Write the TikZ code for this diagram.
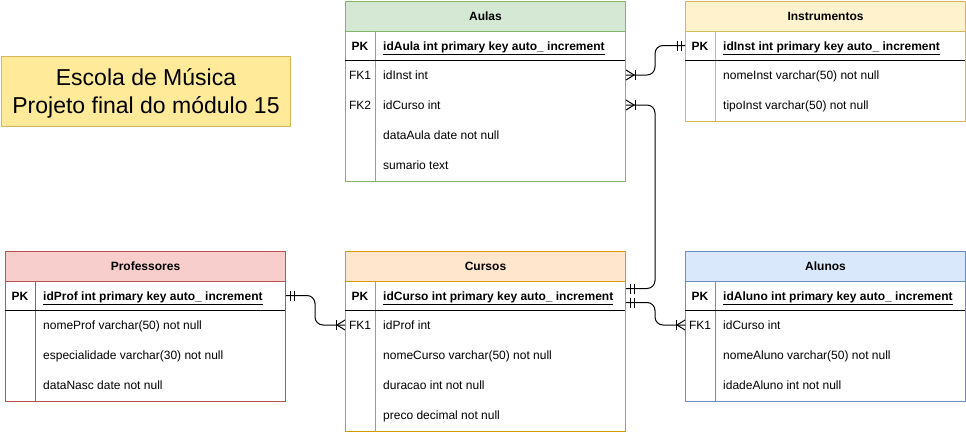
\documentclass[tikz,border=0pt]{standalone}
\usepackage{fontspec}
\setmainfont{Liberation Sans}
\definecolor{aulasF}{HTML}{D5E8D4}\definecolor{aulasB}{HTML}{82B366}
\definecolor{instF}{HTML}{FFF2CC}\definecolor{instB}{HTML}{D6B656}
\definecolor{profF}{HTML}{F8CECC}\definecolor{profB}{HTML}{B85450}
\definecolor{cursF}{HTML}{FFE6CC}\definecolor{cursB}{HTML}{D79B00}
\definecolor{alunF}{HTML}{DAE8FC}\definecolor{alunB}{HTML}{6C8EBF}
\definecolor{titleF}{HTML}{FFEA99}
\newcommand\erFrame[7]{%
  \node[tbox, draw=#6, minimum height=#4pt] (#1) at (#2,#3) {};
  \node[thead, fill=#5, draw=#6] (#1H) at (#2,#3) {#7};
  \draw[#6] (#2+30,#3+30) -- (#2+30,#3+#4);
  \draw (#2,#3+60) -- (#2+280,#3+60);
}
\tikzset{
  tbox/.style={rectangle, anchor=north west, minimum width=280pt, inner sep=0pt, fill=white, line width=1pt},
  thead/.style={rectangle, anchor=north west, minimum width=280pt, minimum height=30pt, inner sep=0pt, line width=1pt, font=\fontsize{12}{14}\selectfont\bfseries},
  fld/.style={anchor=west, inner sep=0pt, text height=11pt, text depth=2pt, font=\fontsize{12}{14}\selectfont},
  pkfld/.style={fld, font=\fontsize{12}{14}\selectfont\bfseries},
  keyl/.style={inner sep=0pt, text height=11pt, text depth=2pt, font=\fontsize{12}{14}\selectfont},
  pkl/.style={keyl, font=\fontsize{12}{14}\selectfont\bfseries},
  conn/.style={line width=1pt, rounded corners=8pt},
  crowE/.pic={\draw[line width=1pt] (0,-5) -- (8,0) -- (0,5); \draw[line width=1pt] (9,-5) -- (9,5);},
  crowW/.pic={\draw[line width=1pt] (0,-5) -- (-8,0) -- (0,5); \draw[line width=1pt] (-9,-5) -- (-9,5);},
  oneE/.pic={\draw[line width=1pt] (4,-5) -- (4,5) (8,-5) -- (8,5);},
  oneW/.pic={\draw[line width=1pt] (-4,-5) -- (-4,5) (-8,-5) -- (-8,5);},
}
\begin{document}
\begin{tikzpicture}[x=1pt,y=-1pt]
\useasboundingbox (0,0) rectangle (966,431);
% title
\node[draw=instB, fill=titleF, line width=1pt, anchor=north west, minimum width=289pt, minimum height=70pt, inner sep=0pt] (title) at (1,55.5) {};
\node[inner sep=0pt, align=center, font=\fontsize{23}{28.5}\selectfont] (titleTxt) at ([yshift=-2.5pt]title.center) {Escola de Música\\Projeto final do módulo 15};
% Aulas
\erFrame{aulas}{345}{0.5}{180}{aulasF}{aulasB}{Aulas}
\node[pkl] (aulasPKl) at (360,45.5) {PK};
\node[pkfld] (aulasPK) at (383,45.5) {\underline{idAula int primary key auto\_ increment}};
\node[keyl] (aulasFK1l) at (360,75) {FK1};
\node[fld] (aulasFK1) at (383,75) {idInst int};
\node[keyl] (aulasFK2l) at (360,105) {FK2};
\node[fld] (aulasFK2) at (383,105) {idCurso int};
\node[fld] (aulasR3) at (383,135) {dataAula date not null};
\node[fld] (aulasR4) at (383,165) {sumario text};
% Instrumentos
\erFrame{inst}{685}{0.5}{120}{instF}{instB}{Instrumentos}
\node[pkl] (instPKl) at (700,45.5) {PK};
\node[pkfld] (instPK) at (723,45.5) {\underline{idInst int primary key auto\_ increment}};
\node[fld] (instR1) at (723,75) {nomeInst varchar(50) not null};
\node[fld] (instR2) at (723,105) {tipoInst varchar(50) not null};
% Professores
\erFrame{prof}{5}{250.5}{150}{profF}{profB}{Professores}
\node[pkl] (profPKl) at (20,295.5) {PK};
\node[pkfld] (profPK) at (43,295.5) {\underline{idProf int primary key auto\_ increment}};
\node[fld] (profR1) at (43,325) {nomeProf varchar(50) not null};
\node[fld] (profR2) at (43,355) {especialidade varchar(30) not null};
\node[fld] (profR3) at (43,385) {dataNasc date not null};
% Cursos
\erFrame{curs}{345}{250.5}{180}{cursF}{cursB}{Cursos}
\node[pkl] (cursPKl) at (360,295.5) {PK};
\node[pkfld] (cursPK) at (383,295.5) {\underline{idCurso int primary key auto\_ increment}};
\node[keyl] (cursFK1l) at (360,325) {FK1};
\node[fld] (cursFK1) at (383,325) {idProf int};
\node[fld] (cursR2) at (383,355) {nomeCurso varchar(50) not null};
\node[fld] (cursR3) at (383,385) {duracao int not null};
\node[fld] (cursR4) at (383,415) {preco decimal not null};
% Alunos
\erFrame{alun}{685}{250.5}{150}{alunF}{alunB}{Alunos}
\node[pkl] (alunPKl) at (700,295.5) {PK};
\node[pkfld] (alunPK) at (723,295.5) {\underline{idAluno int primary key auto\_ increment}};
\node[keyl] (alunFK1l) at (700,325) {FK1};
\node[fld] (alunFK1) at (723,325) {idCurso int};
\node[fld] (alunR2) at (723,355) {nomeAluno varchar(50) not null};
\node[fld] (alunR3) at (723,385) {idadeAluno int not null};
% connectors
\coordinate (busR) at (655,0);
\coordinate (busL) at (315,0);
\coordinate (cPKa) at ([yshift=7pt]curs.east |- cursPK);
\coordinate (cPKb) at ([yshift=-7pt]curs.east |- cursPK);
\draw[conn] (aulas.east |- aulasFK1) -- (busR |- aulasFK1) -- (busR |- instPK) -- (inst.west |- instPK);
\draw[conn] (aulas.east |- aulasFK2) -- (busR |- aulasFK2) -- (busR |- cPKa) -- (cPKa);
\draw[conn] (cPKb) -- (busR |- cPKb) -- (busR |- alunFK1) -- (alun.west |- alunFK1);
\draw[conn] (prof.east |- profPK) -- (busL |- profPK) -- (busL |- cursFK1) -- (curs.west |- cursFK1);
\pic at (aulas.east |- aulasFK1) {crowE};
\pic at (aulas.east |- aulasFK2) {crowE};
\pic at (inst.west |- instPK) {oneW};
\pic at (cPKa) {oneE};
\pic at (cPKb) {oneE};
\pic at (alun.west |- alunFK1) {crowW};
\pic at (prof.east |- profPK) {oneE};
\pic at (curs.west |- cursFK1) {crowW};
\end{tikzpicture}
\end{document}
